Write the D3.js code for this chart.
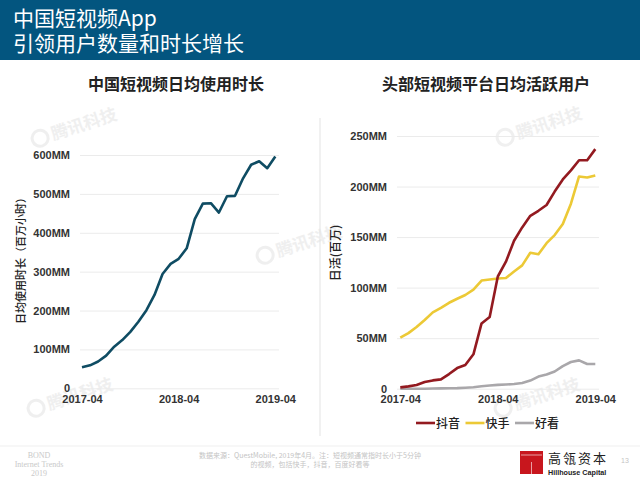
<!DOCTYPE html>
<html>
<head>
<meta charset="utf-8">
<script src="https://cdn.jsdelivr.net/npm/d3@7"></script>
<style>
  html, body { margin: 0; padding: 0; background: #fff; }
  svg { display: block; }
  text { font-family: "Liberation Sans", "Noto Sans CJK SC", sans-serif; }
  .cjk { font-family: "Noto Sans CJK SC", sans-serif; }
</style>
</head>
<body>
<svg id="chart" width="640" height="480"></svg>
<script>
var months = ['2017-04','2017-05','2017-06','2017-07','2017-08','2017-09','2017-10','2017-11','2017-12',
  '2018-01','2018-02','2018-03','2018-04','2018-05','2018-06','2018-07','2018-08','2018-09','2018-10',
  '2018-11','2018-12','2019-01','2019-02','2019-03','2019-04'];
var xLabels = ['2017-04','2018-04','2019-04'];

var usageHours = [54,59,69,84,107,124,145,171,201,240,294,320,333,360,435,475,476,452,494,495,540,575,584,566,596];
var usageTicks = [0,100,200,300,400,500,600];

var douyin = [1.3,2.3,3.6,6.6,8.2,9.2,14.5,20.4,23.4,34,64.6,71,111,125.6,146.4,159.6,171,176,181.7,195,207,216,226,226,237];
var kuaishou = [50.5,55,61,68,75.5,80,85,89,92.7,98,107,108,109,109.5,116,122,134.5,133,144,152,163,183,210,209,211];
var haokan = [0,0,0,0,0.2,0.3,0.4,0.6,1,1.5,2.5,3.2,3.8,4.2,4.6,5.6,8,12,14,17,22.4,26.4,28,24.4,24.4];
var dauTicks = [0,50,100,150,200,250];

var legendNames = ['抖音','快手','好看'];
var legendColors = ['#931a20','#ecc936','#a9a7aa'];

var svg = d3.select('#chart');

// header band
svg.append('rect').attr('width', 640).attr('height', 60).attr('fill', '#03557f');
svg.append('text').attr('class', 'cjk').attr('x', 13).attr('y', 26).attr('font-size', 21).attr('fill', '#fff').text('中国短视频App');
svg.append('text').attr('class', 'cjk').attr('x', 13).attr('y', 51).attr('font-size', 21).attr('fill', '#fff').text('引领用户数量和时长增长');

// watermarks go under the charts
function watermark(x, y) {
  var g = svg.append('g').attr('transform', 'translate(' + x + ',' + y + ') rotate(-18)').attr('opacity', 0.6);
  g.append('circle').attr('cx', 0).attr('cy', -6).attr('r', 8).attr('fill', 'none').attr('stroke', '#e6e6e6').attr('stroke-width', 3);
  g.append('text').attr('class', 'cjk').attr('x', 12).attr('y', 0).attr('font-size', 17).attr('font-weight', 700).attr('fill', '#e6e6e6').text('腾讯科技');
}
[[42,144],[267,261],[507,143],[38,414],[505,414]].forEach(function(p) { watermark(p[0], p[1]); });

svg.append('line').attr('x1', 320).attr('x2', 320).attr('y1', 118).attr('y2', 436).attr('stroke', '#e3e3e3');
svg.append('line').attr('x1', 0).attr('x2', 640).attr('y1', 446).attr('y2', 446).attr('stroke', '#efefef');

function panel(opts) {
  var x = d3.scalePoint().domain(months).range(opts.xRange);
  var y = d3.scaleLinear().domain(opts.yDomain).range(opts.yRange);
  var g = svg.append('g');

  var yAxis = g.append('g')
    .attr('transform', 'translate(' + opts.gridLeft + ',0)')
    .call(d3.axisLeft(y).tickValues(opts.ticks).tickSize(-(opts.gridRight - opts.gridLeft)).tickPadding(opts.pad)
      .tickFormat(function(d) { return d === 0 ? '0' : d + 'MM'; }));
  yAxis.select('.domain').remove();
  yAxis.selectAll('line').attr('stroke', '#ebebeb');
  yAxis.selectAll('text').attr('font-size', 11).attr('font-weight', 700).attr('fill', '#333');

  var xAxis = g.append('g')
    .attr('transform', 'translate(0,' + opts.yRange[0] + ')')
    .call(d3.axisBottom(x).tickValues(xLabels).tickSize(0).tickPadding(7));
  xAxis.select('.domain').remove();
  xAxis.selectAll('text').attr('font-size', 11).attr('font-weight', 700).attr('fill', '#333');

  var line = d3.line().x(function(d, i) { return x(months[i]); }).y(function(d) { return y(d); });
  opts.series.forEach(function(s) {
    g.append('path').attr('d', line(s.values)).attr('fill', 'none')
      .attr('stroke', s.color).attr('stroke-width', 2.6).attr('stroke-linejoin', 'round');
  });

  svg.append('text').attr('class', 'cjk').attr('x', opts.titleX).attr('y', 90).attr('text-anchor', 'middle')
    .attr('font-size', 16).attr('font-weight', 700).attr('fill', '#222').text(opts.title);
  svg.append('text').attr('class', 'cjk').attr('text-anchor', 'middle')
    .attr('transform', 'translate(' + opts.yTitleX + ',' + opts.yTitleY + ') rotate(-90)')
    .attr('font-size', opts.yTitleSize).attr('font-weight', 500).attr('fill', '#222').text(opts.yTitle);
}

panel({
  xRange: [82, 275.3], yDomain: [0, 600], yRange: [388.3, 155], ticks: usageTicks,
  gridLeft: 80, gridRight: 279, pad: 10,
  series: [{ values: usageHours, color: '#0f4c63' }],
  title: '中国短视频日均使用时长', titleX: 176,
  yTitle: '日均使用时长（百万小时）', yTitleX: 25, yTitleY: 258, yTitleSize: 11
});

panel({
  xRange: [400.3, 595.3], yDomain: [0, 250], yRange: [388.7, 136], ticks: dauTicks,
  gridLeft: 397, gridRight: 599, pad: 10,
  series: [
    { values: haokan, color: legendColors[2] },
    { values: kuaishou, color: legendColors[1] },
    { values: douyin, color: legendColors[0] }
  ],
  title: '头部短视频平台日均活跃用户', titleX: 486,
  yTitle: '日活(百万)', yTitleX: 340, yTitleY: 253, yTitleSize: 12
});

// legend
var legendX = d3.scalePoint().domain(legendNames).range([416, 515]);
legendNames.forEach(function(name, i) {
  var lx = legendX(name);
  svg.append('line').attr('x1', lx).attr('x2', lx + 19).attr('y1', 423).attr('y2', 423)
    .attr('stroke', legendColors[i]).attr('stroke-width', 2.6);
  svg.append('text').attr('class', 'cjk').attr('x', lx + 20).attr('y', 428).attr('font-size', 12)
    .attr('font-weight', 500).attr('fill', '#222').text(name);
});

// footer
['BOND','Internet Trends','2019'].forEach(function(t, i) {
  svg.append('text').attr('x', 39).attr('y', 458 + i * 9).attr('text-anchor', 'middle')
    .style('font-family', '"Liberation Serif", serif').attr('font-size', 8).attr('fill', '#c9c9c9').text(t);
});
['数据来源：QuestMobile, 2019年4月。注：短视频通常指时长小于5分钟','的视频，包括快手，抖音，百度好看等'].forEach(function(t, i) {
  svg.append('text').attr('class', 'cjk').attr('x', 310).attr('y', 458 + i * 9).attr('text-anchor', 'middle')
    .attr('font-size', 7).attr('fill', '#c4c4c4').text(t);
});
svg.append('rect').attr('x', 520).attr('y', 451).attr('width', 23).attr('height', 23).attr('fill', '#c8161d');
svg.append('line').attr('x1', 531.5).attr('x2', 531.5).attr('y1', 462).attr('y2', 474).attr('stroke', '#fff').attr('stroke-width', 0.6);
svg.append('line').attr('x1', 521).attr('x2', 542).attr('y1', 455).attr('y2', 455).attr('stroke', '#fff').attr('stroke-width', 0.6);
svg.append('text').attr('class', 'cjk').attr('x', 548).attr('y', 463).attr('font-size', 13).attr('letter-spacing', 2)
  .attr('fill', '#222').text('高瓴资本');
svg.append('text').attr('x', 548).attr('y', 475).attr('font-size', 7.2).attr('font-weight', 700).attr('fill', '#222').text('Hillhouse Capital');
svg.append('text').attr('x', 621).attr('y', 463).attr('font-size', 7).attr('fill', '#c4c4c4').text('13');
</script>
</body>
</html>
